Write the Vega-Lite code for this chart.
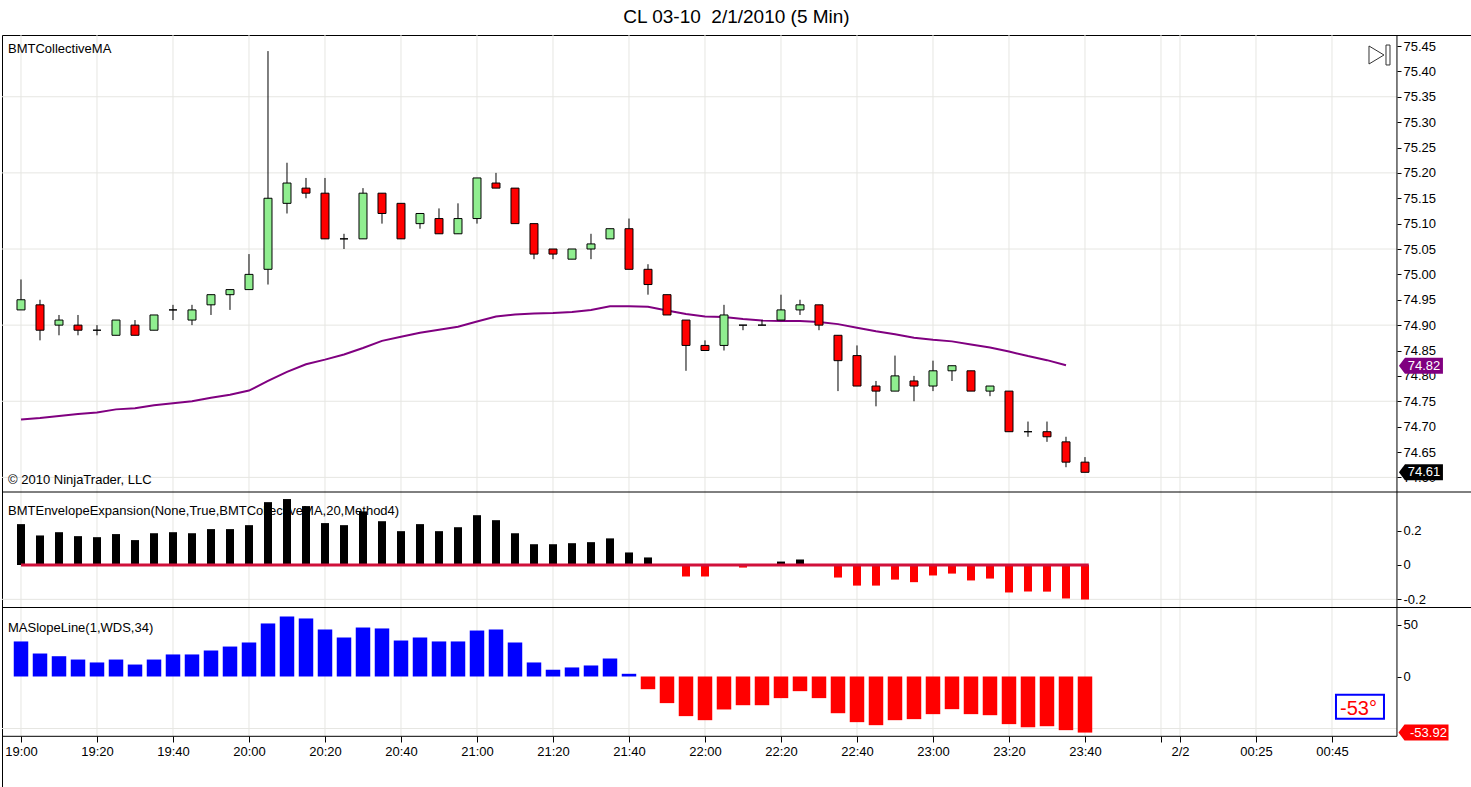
{
  "$schema": "https://vega.github.io/schema/vega-lite/v6.json",
  "width": 1469,
  "height": 752,
  "padding": {"left": 1, "top": 7, "right": 0, "bottom": 0},
  "autosize": {"type": "pad"},
  "background": "white",
  "title": {"text": "CL 03-10\u00a0 2/1/2010 (5 Min)", "font": "Liberation Sans", "fontSize": 19, "fontWeight": "normal", "color": "black", "offset": 8, "anchor": "middle"},
  "config": {
    "view": {"stroke": "black", "strokeWidth": 1},
    "font": "Liberation Sans",
    "axis": {"labelFont": "Liberation Sans", "labelFontSize": 13, "labelColor": "black", "tickColor": "black", "domain": false, "grid": false, "labelFlush": false, "labelOverlap": false}
  },
  "datasets": {
    "bars": [
      {"t": "2010-02-01T19:00", "o": 74.93, "h": 74.99, "l": 74.93, "c": 74.95, "ma": 74.714, "env": 0.238, "slope": 33.7},
      {"t": "2010-02-01T19:05", "o": 74.94, "h": 74.95, "l": 74.87, "c": 74.89, "ma": 74.717, "env": 0.172, "slope": 22.1},
      {"t": "2010-02-01T19:10", "o": 74.90, "h": 74.92, "l": 74.88, "c": 74.91, "ma": 74.721, "env": 0.191, "slope": 19.5},
      {"t": "2010-02-01T19:15", "o": 74.90, "h": 74.92, "l": 74.88, "c": 74.89, "ma": 74.725, "env": 0.168, "slope": 16.3},
      {"t": "2010-02-01T19:20", "o": 74.89, "h": 74.90, "l": 74.88, "c": 74.89, "ma": 74.728, "env": 0.162, "slope": 13.5},
      {"t": "2010-02-01T19:25", "o": 74.88, "h": 74.91, "l": 74.88, "c": 74.91, "ma": 74.734, "env": 0.180, "slope": 16.3},
      {"t": "2010-02-01T19:30", "o": 74.90, "h": 74.91, "l": 74.88, "c": 74.88, "ma": 74.736, "env": 0.145, "slope": 11.5},
      {"t": "2010-02-01T19:35", "o": 74.89, "h": 74.92, "l": 74.89, "c": 74.92, "ma": 74.742, "env": 0.185, "slope": 16.3},
      {"t": "2010-02-01T19:40", "o": 74.93, "h": 74.94, "l": 74.91, "c": 74.93, "ma": 74.746, "env": 0.191, "slope": 21.2},
      {"t": "2010-02-01T19:45", "o": 74.91, "h": 74.94, "l": 74.90, "c": 74.93, "ma": 74.750, "env": 0.185, "slope": 21.2},
      {"t": "2010-02-01T19:50", "o": 74.94, "h": 74.96, "l": 74.92, "c": 74.96, "ma": 74.757, "env": 0.209, "slope": 25.0},
      {"t": "2010-02-01T19:55", "o": 74.96, "h": 74.97, "l": 74.93, "c": 74.97, "ma": 74.763, "env": 0.209, "slope": 28.8},
      {"t": "2010-02-01T20:00", "o": 74.97, "h": 75.04, "l": 74.97, "c": 75.00, "ma": 74.771, "env": 0.232, "slope": 32.7},
      {"t": "2010-02-01T20:05", "o": 75.01, "h": 75.44, "l": 74.98, "c": 75.15, "ma": 74.790, "env": 0.366, "slope": 51.0},
      {"t": "2010-02-01T20:10", "o": 75.14, "h": 75.22, "l": 75.12, "c": 75.18, "ma": 74.808, "env": 0.384, "slope": 57.7},
      {"t": "2010-02-01T20:15", "o": 75.17, "h": 75.19, "l": 75.15, "c": 75.16, "ma": 74.823, "env": 0.343, "slope": 55.8},
      {"t": "2010-02-01T20:20", "o": 75.16, "h": 75.19, "l": 75.07, "c": 75.07, "ma": 74.832, "env": 0.244, "slope": 45.2},
      {"t": "2010-02-01T20:25", "o": 75.07, "h": 75.08, "l": 75.05, "c": 75.07, "ma": 74.842, "env": 0.232, "slope": 37.5},
      {"t": "2010-02-01T20:30", "o": 75.07, "h": 75.17, "l": 75.07, "c": 75.16, "ma": 74.855, "env": 0.312, "slope": 47.1},
      {"t": "2010-02-01T20:35", "o": 75.16, "h": 75.16, "l": 75.10, "c": 75.12, "ma": 74.869, "env": 0.255, "slope": 46.2},
      {"t": "2010-02-01T20:40", "o": 75.14, "h": 75.14, "l": 75.07, "c": 75.07, "ma": 74.877, "env": 0.197, "slope": 34.6},
      {"t": "2010-02-01T20:45", "o": 75.10, "h": 75.12, "l": 75.09, "c": 75.12, "ma": 74.885, "env": 0.238, "slope": 37.5},
      {"t": "2010-02-01T20:50", "o": 75.11, "h": 75.13, "l": 75.08, "c": 75.08, "ma": 74.891, "env": 0.197, "slope": 33.7},
      {"t": "2010-02-01T20:55", "o": 75.08, "h": 75.14, "l": 75.08, "c": 75.11, "ma": 74.897, "env": 0.220, "slope": 33.7},
      {"t": "2010-02-01T21:00", "o": 75.11, "h": 75.19, "l": 75.10, "c": 75.19, "ma": 74.907, "env": 0.290, "slope": 44.2},
      {"t": "2010-02-01T21:05", "o": 75.18, "h": 75.20, "l": 75.17, "c": 75.17, "ma": 74.917, "env": 0.261, "slope": 45.2},
      {"t": "2010-02-01T21:10", "o": 75.17, "h": 75.17, "l": 75.10, "c": 75.10, "ma": 74.921, "env": 0.185, "slope": 32.7},
      {"t": "2010-02-01T21:15", "o": 75.10, "h": 75.10, "l": 75.03, "c": 75.04, "ma": 74.923, "env": 0.121, "slope": 13.5},
      {"t": "2010-02-01T21:20", "o": 75.05, "h": 75.05, "l": 75.03, "c": 75.04, "ma": 74.924, "env": 0.121, "slope": 6.5},
      {"t": "2010-02-01T21:25", "o": 75.03, "h": 75.05, "l": 75.03, "c": 75.05, "ma": 74.926, "env": 0.127, "slope": 8.7},
      {"t": "2010-02-01T21:30", "o": 75.05, "h": 75.08, "l": 75.03, "c": 75.06, "ma": 74.930, "env": 0.133, "slope": 10.6},
      {"t": "2010-02-01T21:35", "o": 75.07, "h": 75.09, "l": 75.07, "c": 75.09, "ma": 74.937, "env": 0.155, "slope": 17.3},
      {"t": "2010-02-01T21:40", "o": 75.09, "h": 75.11, "l": 75.01, "c": 75.01, "ma": 74.937, "env": 0.073, "slope": 2.6},
      {"t": "2010-02-01T21:45", "o": 75.01, "h": 75.02, "l": 74.96, "c": 74.98, "ma": 74.936, "env": 0.044, "slope": -12.2},
      {"t": "2010-02-01T21:50", "o": 74.96, "h": 74.96, "l": 74.92, "c": 74.92, "ma": 74.929, "env": 0.0, "slope": -25.6},
      {"t": "2010-02-01T21:55", "o": 74.91, "h": 74.91, "l": 74.81, "c": 74.86, "ma": 74.922, "env": -0.067, "slope": -38.1},
      {"t": "2010-02-01T22:00", "o": 74.86, "h": 74.87, "l": 74.85, "c": 74.85, "ma": 74.917, "env": -0.067, "slope": -42.0},
      {"t": "2010-02-01T22:05", "o": 74.86, "h": 74.94, "l": 74.85, "c": 74.92, "ma": 74.916, "env": 0.0, "slope": -31.7},
      {"t": "2010-02-01T22:10", "o": 74.90, "h": 74.90, "l": 74.89, "c": 74.90, "ma": 74.912, "env": -0.015, "slope": -27.6},
      {"t": "2010-02-01T22:15", "o": 74.90, "h": 74.91, "l": 74.90, "c": 74.90, "ma": 74.909, "env": 0.0, "slope": -27.6},
      {"t": "2010-02-01T22:20", "o": 74.91, "h": 74.96, "l": 74.91, "c": 74.93, "ma": 74.908, "env": 0.020, "slope": -20.8},
      {"t": "2010-02-01T22:25", "o": 74.93, "h": 74.95, "l": 74.92, "c": 74.94, "ma": 74.908, "env": 0.032, "slope": -14.1},
      {"t": "2010-02-01T22:30", "o": 74.94, "h": 74.94, "l": 74.89, "c": 74.90, "ma": 74.906, "env": 0.0, "slope": -20.8},
      {"t": "2010-02-01T22:35", "o": 74.88, "h": 74.88, "l": 74.77, "c": 74.83, "ma": 74.902, "env": -0.073, "slope": -35.3},
      {"t": "2010-02-01T22:40", "o": 74.84, "h": 74.86, "l": 74.78, "c": 74.78, "ma": 74.895, "env": -0.120, "slope": -43.9},
      {"t": "2010-02-01T22:45", "o": 74.78, "h": 74.79, "l": 74.74, "c": 74.77, "ma": 74.888, "env": -0.120, "slope": -46.8},
      {"t": "2010-02-01T22:50", "o": 74.77, "h": 74.84, "l": 74.77, "c": 74.80, "ma": 74.882, "env": -0.085, "slope": -42.0},
      {"t": "2010-02-01T22:55", "o": 74.79, "h": 74.80, "l": 74.75, "c": 74.78, "ma": 74.875, "env": -0.100, "slope": -41.0},
      {"t": "2010-02-01T23:00", "o": 74.78, "h": 74.83, "l": 74.77, "c": 74.81, "ma": 74.871, "env": -0.061, "slope": -36.2},
      {"t": "2010-02-01T23:05", "o": 74.81, "h": 74.82, "l": 74.79, "c": 74.82, "ma": 74.868, "env": -0.050, "slope": -31.4},
      {"t": "2010-02-01T23:10", "o": 74.81, "h": 74.81, "l": 74.77, "c": 74.77, "ma": 74.862, "env": -0.090, "slope": -36.2},
      {"t": "2010-02-01T23:15", "o": 74.77, "h": 74.78, "l": 74.76, "c": 74.78, "ma": 74.856, "env": -0.079, "slope": -37.2},
      {"t": "2010-02-01T23:20", "o": 74.77, "h": 74.77, "l": 74.69, "c": 74.69, "ma": 74.848, "env": -0.160, "slope": -45.8},
      {"t": "2010-02-01T23:25", "o": 74.69, "h": 74.71, "l": 74.68, "c": 74.69, "ma": 74.839, "env": -0.155, "slope": -48.7},
      {"t": "2010-02-01T23:30", "o": 74.69, "h": 74.71, "l": 74.67, "c": 74.68, "ma": 74.831, "env": -0.155, "slope": -47.8},
      {"t": "2010-02-01T23:35", "o": 74.67, "h": 74.68, "l": 74.62, "c": 74.63, "ma": 74.821, "env": -0.195, "slope": -51.6},
      {"t": "2010-02-01T23:40", "o": 74.63, "h": 74.64, "l": 74.61, "c": 74.61, "ma": null, "env": -0.201, "slope": -53.92}
    ],
    "xgrid": [
      {"t": "2010-02-01T19:00"}, {"t": "2010-02-01T19:20"}, {"t": "2010-02-01T19:40"},
      {"t": "2010-02-01T20:00"}, {"t": "2010-02-01T20:20"}, {"t": "2010-02-01T20:40"},
      {"t": "2010-02-01T21:00"}, {"t": "2010-02-01T21:20"}, {"t": "2010-02-01T21:40"},
      {"t": "2010-02-01T22:00"}, {"t": "2010-02-01T22:20"}, {"t": "2010-02-01T22:40"},
      {"t": "2010-02-01T23:00"}, {"t": "2010-02-01T23:20"}, {"t": "2010-02-01T23:40"},
      {"t": "2010-02-02T00:00"}, {"t": "2010-02-02T00:05"}, {"t": "2010-02-02T00:25"},
      {"t": "2010-02-02T00:45"}
    ],
    "pgrid": [{"p": 74.60}, {"p": 74.75}, {"p": 74.90}, {"p": 75.05}, {"p": 75.20}, {"p": 75.35}],
    "plabels": [
      {"t": "2010-02-01T18:56:35", "p": 75.4356, "label": "BMTCollectiveMA"},
      {"t": "2010-02-01T18:56:35", "p": 74.586, "label": "© 2010 NinjaTrader, LLC"}
    ]
  },
  "layer": [
    {
      "layer": [
        {
          "data": {"name": "xgrid"},
          "mark": {"type": "rule", "color": "#e6e6e2", "strokeWidth": 1},
          "encoding": {
            "x": {"field": "t", "type": "temporal", "title": null},
            "y": {"datum": 75.4717, "type": "quantitative"},
            "y2": {"datum": 74.0898}
          }
        },
        {
          "data": {"name": "pgrid"},
          "mark": {"type": "rule", "color": "#e6e6e2", "strokeWidth": 1},
          "encoding": {
            "x": {"datum": {"year": 2010, "month": 2, "date": 1, "hours": 18, "minutes": 55}, "type": "temporal"},
            "x2": {"datum": {"year": 2010, "month": 2, "date": 2, "hours": 1, "minutes": 2, "seconds": 6}},
            "y": {"field": "p", "type": "quantitative", "title": null}
          }
        },
        {
          "data": {"name": "plabels"},
          "mark": {"type": "text", "align": "left", "baseline": "alphabetic", "fontSize": 13, "color": "black"},
          "encoding": {
            "x": {"field": "t", "type": "temporal", "title": null},
            "y": {"field": "p", "type": "quantitative", "title": null},
            "text": {"field": "label"}
          }
        },
        {
          "data": {"name": "bars"},
          "mark": {"type": "line", "color": "#800080", "strokeWidth": 2},
          "encoding": {
            "x": {"field": "t", "type": "temporal", "title": null},
            "y": {"field": "ma", "type": "quantitative", "title": null}
          }
        },
        {
          "data": {"name": "bars"},
          "mark": {"type": "rule", "color": "black", "strokeWidth": 1},
          "encoding": {
            "x": {
              "field": "t", "type": "temporal", "title": null,
              "scale": {"domain": [{"year": 2010, "month": 2, "date": 1, "hours": 18, "minutes": 55}, {"year": 2010, "month": 2, "date": 2, "hours": 1, "minutes": 21, "seconds": 35}], "nice": false, "padding": 0},
              "axis": {
                "orient": "bottom", "title": null, "offset": -51, "tickSize": 6, "labelPadding": 3,
                "values": [
                  {"year": 2010, "month": 2, "date": 1, "hours": 19, "minutes": 0},
                  {"year": 2010, "month": 2, "date": 1, "hours": 19, "minutes": 20},
                  {"year": 2010, "month": 2, "date": 1, "hours": 19, "minutes": 40},
                  {"year": 2010, "month": 2, "date": 1, "hours": 20, "minutes": 0},
                  {"year": 2010, "month": 2, "date": 1, "hours": 20, "minutes": 20},
                  {"year": 2010, "month": 2, "date": 1, "hours": 20, "minutes": 40},
                  {"year": 2010, "month": 2, "date": 1, "hours": 21, "minutes": 0},
                  {"year": 2010, "month": 2, "date": 1, "hours": 21, "minutes": 20},
                  {"year": 2010, "month": 2, "date": 1, "hours": 21, "minutes": 40},
                  {"year": 2010, "month": 2, "date": 1, "hours": 22, "minutes": 0},
                  {"year": 2010, "month": 2, "date": 1, "hours": 22, "minutes": 20},
                  {"year": 2010, "month": 2, "date": 1, "hours": 22, "minutes": 40},
                  {"year": 2010, "month": 2, "date": 1, "hours": 23, "minutes": 0},
                  {"year": 2010, "month": 2, "date": 1, "hours": 23, "minutes": 20},
                  {"year": 2010, "month": 2, "date": 1, "hours": 23, "minutes": 40},
                  {"year": 2010, "month": 2, "date": 2, "hours": 0, "minutes": 0},
                  {"year": 2010, "month": 2, "date": 2, "hours": 0, "minutes": 5},
                  {"year": 2010, "month": 2, "date": 2, "hours": 0, "minutes": 25},
                  {"year": 2010, "month": 2, "date": 2, "hours": 0, "minutes": 45}
                ],
                "labelExpr": "hours(datum.value) == 0 && minutes(datum.value) == 0 ? '' : (hours(datum.value) == 0 && minutes(datum.value) == 5 ? '2/2' : timeFormat(datum.value, '%H:%M'))"
              }
            },
            "y": {
              "field": "l", "type": "quantitative", "title": null,
              "scale": {"domain": [73.9899, 75.4717], "nice": false, "zero": false, "padding": 0},
              "axis": {
                "orient": "right", "title": null, "format": ".2f", "offset": -74, "tickSize": 4, "labelPadding": 2,
                "values": [74.6, 74.65, 74.7, 74.75, 74.8, 74.85, 74.9, 74.95, 75.0, 75.05, 75.1, 75.15, 75.2, 75.25, 75.3, 75.35, 75.4, 75.45]
              }
            },
            "y2": {"field": "h"}
          }
        },
        {
          "data": {"name": "bars"},
          "mark": {"type": "bar", "size": 8, "stroke": "black", "strokeWidth": 1},
          "encoding": {
            "x": {"field": "t", "type": "temporal", "title": null},
            "y": {"field": "o", "type": "quantitative", "title": null},
            "y2": {"field": "c"},
            "fill": {"condition": {"test": "datum.c >= datum.o", "value": "#90ee90"}, "value": "#ff0000"}
          }
        },
        {
          "data": {"values": [{}]},
          "mark": {"type": "point", "shape": "M -1 -0.857 L 0.43 0 L -1 0.857 Z M 0.62 -0.95 L 1 -0.95 L 1 0.95 L 0.62 0.95 Z", "size": 441, "filled": false, "stroke": "#333333", "strokeWidth": 1, "opacity": 1},
          "encoding": {
            "x": {"datum": {"year": 2010, "month": 2, "date": 2, "hours": 0, "minutes": 57, "seconds": 30}, "type": "temporal"},
            "y": {"datum": 75.4323, "type": "quantitative"}
          }
        },
        {
          "data": {"values": [{}]},
          "mark": {"type": "point", "shape": "M -1 0 L -0.727 -0.364 L 1 -0.364 L 1 0.364 L -0.727 0.364 Z", "size": 1936, "filled": true, "fill": "#800080", "strokeWidth": 0, "opacity": 1},
          "encoding": {
            "x": {"datum": {"year": 2010, "month": 2, "date": 2, "hours": 1, "minutes": 8, "seconds": 25}, "type": "temporal"},
            "y": {"datum": 74.82, "type": "quantitative"}
          }
        },
        {
          "data": {"values": [{}]},
          "mark": {"type": "text", "text": "74.82", "align": "center", "baseline": "middle", "fontSize": 13, "color": "white"},
          "encoding": {
            "x": {"datum": {"year": 2010, "month": 2, "date": 2, "hours": 1, "minutes": 9, "seconds": 12}, "type": "temporal"},
            "y": {"datum": 74.82, "type": "quantitative"}
          }
        },
        {
          "data": {"values": [{}]},
          "mark": {"type": "point", "shape": "M -1 0 L -0.727 -0.364 L 1 -0.364 L 1 0.364 L -0.727 0.364 Z", "size": 1936, "filled": true, "fill": "black", "strokeWidth": 0, "opacity": 1},
          "encoding": {
            "x": {"datum": {"year": 2010, "month": 2, "date": 2, "hours": 1, "minutes": 8, "seconds": 25}, "type": "temporal"},
            "y": {"datum": 74.61, "type": "quantitative"}
          }
        },
        {
          "data": {"values": [{}]},
          "mark": {"type": "text", "text": "74.61", "align": "center", "baseline": "middle", "fontSize": 13, "color": "white"},
          "encoding": {
            "x": {"datum": {"year": 2010, "month": 2, "date": 2, "hours": 1, "minutes": 9, "seconds": 12}, "type": "temporal"},
            "y": {"datum": 74.61, "type": "quantitative"}
          }
        }
      ]
    },
    {
      "layer": [
        {
          "data": {"values": [{}]},
          "mark": {"type": "rule", "color": "#e6e6e2", "strokeWidth": 1},
          "encoding": {
            "x": {"datum": {"year": 2010, "month": 2, "date": 1, "hours": 18, "minutes": 55}, "type": "temporal"},
            "x2": {"datum": {"year": 2010, "month": 2, "date": 2, "hours": 1, "minutes": 2, "seconds": 6}},
            "y": {"datum": -0.2, "type": "quantitative"}
          }
        },
        {
          "data": {"values": [{}]},
          "mark": {"type": "text", "text": "BMTEnvelopeExpansion(None,True,BMTCollectiveMA,20,Method4)", "align": "left", "baseline": "alphabetic", "fontSize": 13, "color": "black"},
          "encoding": {
            "x": {"datum": {"year": 2010, "month": 2, "date": 1, "hours": 18, "minutes": 56, "seconds": 35}, "type": "temporal"},
            "y": {"datum": 0.2894, "type": "quantitative"}
          }
        },
        {
          "data": {"name": "bars"},
          "mark": {"type": "bar", "size": 8},
          "encoding": {
            "x": {"field": "t", "type": "temporal", "title": null},
            "y": {
              "field": "env", "type": "quantitative", "title": null,
              "scale": {"domain": [-1.2926, 3.0859], "nice": false, "zero": false, "padding": 0},
              "axis": {"orient": "right", "title": null, "offset": -74, "tickSize": 4, "labelPadding": 2, "values": [-0.2, 0, 0.2], "labelExpr": "datum.value < 0 ? '-' + format(-datum.value, '.1~f') : format(datum.value, '.1~f')"}
            },
            "y2": {"datum": 0},
            "fill": {"condition": {"test": "datum.env >= 0", "value": "black"}, "value": "#ff0000"}
          }
        },
        {
          "data": {"values": [{}]},
          "mark": {"type": "rule", "color": "#d0103a", "strokeWidth": 3},
          "encoding": {
            "x": {"datum": {"year": 2010, "month": 2, "date": 1, "hours": 19, "minutes": 0}, "type": "temporal"},
            "x2": {"datum": {"year": 2010, "month": 2, "date": 1, "hours": 23, "minutes": 41}},
            "y": {"datum": 0, "type": "quantitative"}
          }
        },
        {
          "data": {"values": [{"v": 0.425}, {"v": -0.2475}]},
          "mark": {"type": "rule", "color": "black", "strokeWidth": 1},
          "encoding": {
            "y": {"field": "v", "type": "quantitative", "title": null}
          }
        }
      ]
    },
    {
      "layer": [
        {
          "data": {"values": [{}]},
          "mark": {"type": "rule", "color": "#e6e6e2", "strokeWidth": 1},
          "encoding": {
            "x": {"datum": {"year": 2010, "month": 2, "date": 1, "hours": 18, "minutes": 55}, "type": "temporal"},
            "x2": {"datum": {"year": 2010, "month": 2, "date": 2, "hours": 1, "minutes": 2, "seconds": 6}},
            "y": {"datum": -50, "type": "quantitative"}
          }
        },
        {
          "data": {"values": [{}]},
          "mark": {"type": "text", "text": "MASlopeLine(1,WDS,34)", "align": "left", "baseline": "alphabetic", "fontSize": 13, "color": "black"},
          "encoding": {
            "x": {"datum": {"year": 2010, "month": 2, "date": 1, "hours": 18, "minutes": 56, "seconds": 35}, "type": "temporal"},
            "y": {"datum": 43.08, "type": "quantitative"}
          }
        },
        {
          "data": {"name": "bars"},
          "mark": {"type": "bar", "size": 14.5},
          "encoding": {
            "x": {"field": "t", "type": "temporal", "title": null},
            "y": {
              "field": "slope", "type": "quantitative", "title": null,
              "scale": {"domain": [-106.25, 616.83], "nice": false, "zero": false, "padding": 0},
              "axis": {"orient": "right", "title": null, "offset": -74, "tickSize": 4, "labelPadding": 2, "values": [0, 50]}
            },
            "y2": {"datum": 0},
            "fill": {"condition": {"test": "datum.slope >= 0", "value": "#0000ff"}, "value": "#ff0000"}
          }
        },
        {
          "data": {"values": [{}]},
          "mark": {"type": "rule", "color": "black", "strokeWidth": 1},
          "encoding": {
            "x": {"datum": {"year": 2010, "month": 2, "date": 1, "hours": 18, "minutes": 55}, "type": "temporal"},
            "x2": {"datum": {"year": 2010, "month": 2, "date": 2, "hours": 1, "minutes": 2, "seconds": 6}},
            "y": {"datum": -57.5, "type": "quantitative"}
          }
        },
        {
          "data": {"values": [{}]},
          "mark": {"type": "rule", "color": "black", "strokeWidth": 1},
          "encoding": {
            "x": {"datum": {"year": 2010, "month": 2, "date": 2, "hours": 1, "minutes": 2, "seconds": 6}, "type": "temporal"},
            "y": {"datum": 616.83, "type": "quantitative"},
            "y2": {"datum": -57.5}
          }
        },
        {
          "data": {"values": [{}]},
          "mark": {"type": "point", "shape": "M -1 -0.5 L 1 -0.5 L 1 0.5 L -1 0.5 Z", "size": 2304, "filled": true, "fill": "white", "stroke": "#0000ff", "strokeWidth": 2, "opacity": 1},
          "encoding": {
            "x": {"datum": {"year": 2010, "month": 2, "date": 2, "hours": 0, "minutes": 52, "seconds": 22}, "type": "temporal"},
            "y": {"datum": -29.0, "type": "quantitative"}
          }
        },
        {
          "data": {"values": [{}]},
          "mark": {"type": "text", "text": "-53°", "align": "center", "baseline": "alphabetic", "fontSize": 20, "color": "#ff0000"},
          "encoding": {
            "x": {"datum": {"year": 2010, "month": 2, "date": 2, "hours": 0, "minutes": 51, "seconds": 58}, "type": "temporal"},
            "y": {"datum": -37.0, "type": "quantitative"}
          }
        },
        {
          "data": {"values": [{}]},
          "mark": {"type": "point", "shape": "M -1 0 L -0.76 -0.32 L 1 -0.32 L 1 0.32 L -0.76 0.32 Z", "size": 2500, "filled": true, "fill": "#ff0000", "strokeWidth": 0, "opacity": 1},
          "encoding": {
            "x": {"datum": {"year": 2010, "month": 2, "date": 2, "hours": 1, "minutes": 9, "seconds": 5}, "type": "temporal"},
            "y": {"datum": -53.92, "type": "quantitative"}
          }
        },
        {
          "data": {"values": [{}]},
          "mark": {"type": "text", "text": "-53.92", "align": "center", "baseline": "middle", "fontSize": 13, "color": "white"},
          "encoding": {
            "x": {"datum": {"year": 2010, "month": 2, "date": 2, "hours": 1, "minutes": 10, "seconds": 23}, "type": "temporal"},
            "y": {"datum": -53.92, "type": "quantitative"}
          }
        }
      ]
    }
  ],
  "resolve": {"scale": {"y": "independent"}, "axis": {"y": "independent"}}
}
